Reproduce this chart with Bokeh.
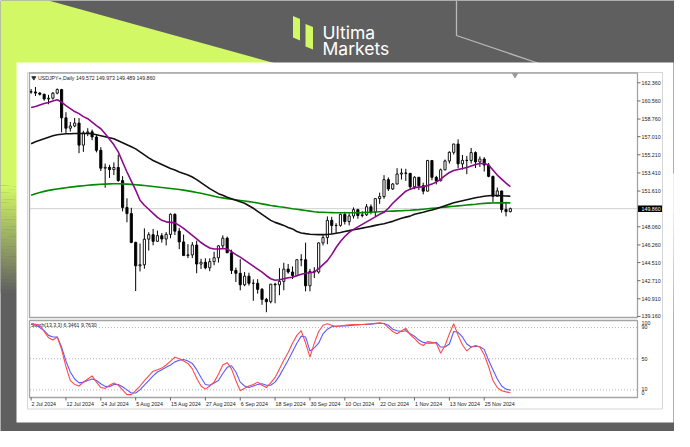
import numpy as np
from bokeh.plotting import figure
from bokeh.models import Range1d, Grid
from bokeh.core.properties import value
from bokeh.embed import file_html
from bokeh.resources import INLINE

# ---------------- data ----------------
symbol_title = "USDJPY+,Daily  149.572 149.973 149.489 149.860"
stoch_title = "Stoch(13,3,3) 6.3461 9.7630"

open_ = [161.47,161.45,161.34,161.22,160.76,160.83,161.33,161.69,158.88,157.85,
         158.07,158.36,156.17,157.39,157.49,156.98,155.65,153.88,153.97,153.74,
         153.95,152.65,149.98,149.37,146.51,144.18,144.29,146.83,147.28,146.62,
         147.18,146.85,147.31,149.30,147.63,146.56,145.20,145.27,146.25,144.36,
         144.54,143.99,144.60,144.99,146.17,146.93,145.48,143.73,143.44,142.30,
         143.16,142.45,142.45,141.85,140.85,140.62,142.36,142.30,142.64,143.86,
         143.57,143.22,144.79,144.79,142.20,143.63,143.57,146.46,146.99,148.70,
         148.19,148.20,149.30,148.58,149.14,149.76,149.18,149.25,150.05,149.52,
         150.86,151.06,152.74,151.82,152.31,153.30,153.40,153.37,152.03,152.98,
         152.14,151.60,154.64,152.97,152.63,153.72,154.60,155.45,156.28,154.31,
         154.66,154.65,155.43,154.50,154.79,154.19,153.07,151.09,151.62,149.77,
         149.572]
high = [161.74,161.95,161.44,161.27,161.16,161.44,161.80,161.76,159.44,158.47,
        158.87,158.86,157.59,157.85,157.72,157.16,155.97,154.34,154.22,154.46,
        155.22,153.09,150.89,149.95,146.58,146.40,147.90,147.52,147.85,147.68,
        147.44,147.53,149.39,149.40,147.95,147.29,146.34,146.54,146.68,144.88,
        144.93,144.93,145.58,146.25,147.21,147.09,145.78,144.00,144.84,143.58,
        143.50,142.84,142.86,141.98,141.00,142.39,142.50,143.95,144.49,144.37,
        144.12,144.82,145.34,146.49,143.88,144.05,146.50,147.24,149.09,149.05,
        148.42,149.37,149.55,149.39,149.98,149.85,149.61,150.32,150.28,150.90,
        151.45,153.19,152.96,152.41,153.88,153.85,153.82,153.37,153.08,153.01,
        152.44,154.71,154.67,153.12,153.84,154.74,155.57,156.30,156.75,155.20,
        155.10,155.89,155.55,155.05,154.97,154.39,153.14,151.96,151.64,150.55,
        149.973]
low = [161.27,161.05,161.10,160.58,160.23,160.69,161.22,157.44,157.36,157.51,
       157.95,155.37,155.50,157.06,156.66,155.45,153.60,151.94,152.91,153.19,
       152.53,149.59,148.51,146.43,141.68,143.63,143.90,145.70,146.22,146.56,
       146.49,146.21,146.92,147.24,145.84,145.19,144.95,144.95,143.45,143.87,
       143.84,143.65,144.24,144.51,145.93,145.47,143.37,142.58,141.75,142.16,
       142.23,140.71,141.43,140.31,139.58,140.46,140.47,141.27,141.75,143.40,
       142.87,143.19,144.14,141.65,141.65,142.97,143.41,146.21,146.33,147.35,
       147.34,148.07,148.29,148.20,148.88,148.86,148.99,149.14,149.30,149.09,
       150.34,150.85,151.61,151.72,152.27,152.75,152.62,151.74,151.79,151.71,
       151.28,151.58,152.68,152.27,152.57,153.66,154.34,155.23,153.87,153.74,
       153.29,154.35,153.90,154.00,153.55,152.98,150.45,151.08,149.47,149.10,
       149.489]
close = [161.45,161.34,161.22,160.76,160.83,161.33,161.69,158.88,157.85,158.07,
         158.36,156.17,157.39,157.49,156.98,155.65,153.88,153.97,153.74,153.95,
         152.65,149.98,149.37,146.51,144.18,144.29,146.83,147.28,146.62,147.18,
         146.85,147.31,149.30,147.63,146.56,145.20,145.27,146.25,144.36,144.54,
         143.99,144.60,144.99,146.17,146.93,145.48,143.73,143.44,142.30,143.16,
         142.45,142.45,141.85,140.85,140.62,142.36,142.30,142.64,143.86,143.57,
         143.22,144.79,144.79,142.20,143.63,143.57,146.46,146.99,148.70,148.19,
         148.20,149.30,148.58,149.14,149.76,149.18,149.25,150.05,149.52,150.86,
         151.06,152.74,151.82,152.31,153.30,153.40,153.37,152.03,152.98,152.14,
         151.60,154.64,152.97,152.63,153.72,154.60,155.45,156.28,154.31,154.66,
         154.65,155.43,154.50,154.79,154.19,153.07,151.09,151.62,149.77,149.57,
         149.860]

ma_purple = [159.9,160.0,160.15,160.3,160.4,160.55,160.67,160.45,160.1,159.8,
             159.5,159.3,159.0,158.8,158.45,158.1,157.8,157.3,156.75,156.2,
             155.5,154.5,153.5,152.6,151.7,150.7,150.2,149.8,149.4,149.0,
             148.7,148.55,148.5,148.45,148.2,147.9,147.55,147.2,146.85,146.5,
             146.2,145.95,145.85,145.85,145.9,145.85,145.6,145.3,145.05,144.75,
             144.45,144.15,143.85,143.55,143.2,142.9,142.75,142.8,142.9,143.0,
             143.05,143.2,143.35,143.45,143.5,143.55,143.9,144.3,144.7,145.3,
             146.0,146.6,147.1,147.5,147.8,148.05,148.3,148.55,148.8,149.05,
             149.3,149.5,149.9,150.4,150.8,151.2,151.6,151.8,151.95,152.0,
             152.05,152.15,152.3,152.5,152.8,153.15,153.45,153.65,153.75,153.85,
             153.95,154.1,154.25,154.35,154.35,154.2,153.7,153.2,152.8,152.4,
             152.05]
ma_black = [156.3,156.5,156.65,156.8,156.95,157.1,157.2,157.25,157.3,157.3,
            157.32,157.33,157.33,157.32,157.3,157.2,157.1,157.0,156.9,156.8,
            156.6,156.4,156.2,156.0,155.8,155.5,155.2,154.9,154.65,154.45,
            154.25,154.05,153.85,153.7,153.5,153.35,153.2,153.0,152.75,152.45,
            152.15,151.85,151.6,151.35,151.2,151.0,150.85,150.7,150.55,150.4,
            150.15,149.9,149.6,149.3,149.0,148.7,148.5,148.35,148.2,148.0,
            147.85,147.6,147.45,147.38,147.32,147.3,147.28,147.28,147.3,147.35,
            147.42,147.5,147.6,147.68,147.77,147.85,147.93,148.02,148.1,148.2,
            148.28,148.36,148.48,148.6,148.75,148.9,149.02,149.12,149.3,149.4,
            149.5,149.62,149.72,149.85,150.0,150.15,150.3,150.45,150.55,150.65,
            150.75,150.85,150.95,151.02,151.1,151.15,151.17,151.17,151.15,151.12,
            151.1]
ma_green = [151.2,151.35,151.47,151.58,151.68,151.75,151.82,151.88,151.94,152.0,
            152.05,152.1,152.14,152.18,152.22,152.25,152.28,152.3,152.32,152.33,
            152.33,152.32,152.3,152.27,152.24,152.2,152.16,152.11,152.06,152.01,
            151.96,151.91,151.86,151.81,151.76,151.7,151.63,151.55,151.47,151.39,
            151.3,151.2,151.1,151.0,150.93,150.86,150.8,150.74,150.68,150.62,
            150.56,150.5,150.42,150.34,150.26,150.17,150.11,150.05,150.0,149.93,
            149.86,149.8,149.74,149.68,149.62,149.56,149.52,149.5,149.48,149.47,
            149.46,149.45,149.45,149.45,149.45,149.46,149.47,149.49,149.51,149.53,
            149.56,149.58,149.6,149.62,149.64,149.66,149.68,149.7,149.74,149.77,
            149.81,149.85,149.89,149.93,149.97,150.01,150.06,150.1,150.14,150.18,
            150.22,150.26,150.3,150.35,150.39,150.41,150.43,150.44,150.44,150.44,
            150.44]

stoch_main = [95,94,93,85,77,74,78,62,40,22,
              17,15,20,24,28,20,13,12,16,19,
              16,10,4,4,9,15,22,28,34,36,
              38,42,47,52,50,47,44,37,25,15,
              11,15,20,30,42,45,37,22,9,12,
              15,17,20,16,13,19,26,37,48,58,
              70,80,86,70,52,70,85,93,95,93,
              91,92,93,93.5,94,94,94,94.5,95,95.5,
              96,95,90,85,82,86,89,81,76,70,
              67,72,71,70,57,67,82,95,80,68,
              60,65,67,65,55,40,22,13,9,7.5,
              6.3461]
stoch_signal = [94,93.5,90,86,80,78,78,65,47,33,
                24,19,20,22,24,22,18,14.5,14,17,
                17,14,10,6,6,10,16,22,28,33,
                36,39,42,46,48,49,47,44,36,26,
                17,16,19,22,31,39,41,33,20,15,
                13,15,17,18,16,16,20,28,38,48,
                59,70,79,78,60,64,70,82,88,91,
                92,92,92,92.5,93,93.5,94,94,94.5,95,
                95.5,95.3,93,88,86,85,86,82,79,74,
                71,70,70,71,65,65,69,85,84,78,
                69,65,66,65.4,62,48,36,24,15,11,
                9.763]

date_tick_bars = [0, 8, 16, 24, 32, 40, 48, 56, 64, 72, 80, 88, 96, 104]
date_tick_labels = ["2 Jul 2024", "12 Jul 2024", "24 Jul 2024", "5 Aug 2024",
                    "15 Aug 2024", "27 Aug 2024", "6 Sep 2024", "18 Sep 2024",
                    "30 Sep 2024", "10 Oct 2024", "22 Oct 2024", "1 Nov 2024",
                    "13 Nov 2024", "25 Nov 2024"]
price_ticks = [162.360, 160.560, 158.760, 157.010, 155.210, 153.410, 151.610,
               148.060, 146.260, 144.510, 142.710, 140.910, 139.160]
current_price = 149.860
stoch_ticks = [100, 90, 50, 10, 0]
stoch_tick_shift = [3.3, -0.3, 0, -0.7, -4.5]
stoch_levels = [90, 50, 10]

# ---------------- layout constants (reference pixel frame) ----------------
W, H = 674, 431
OX, OY = 0, 0
BAR0_X, BAR_PX = 30.6, 4.357
P_REF, P_REF_Y, PX_PER_YEN = 162.36, 82.3, 10.07
ST_Y0, PX_PER_ST = 397.2, 0.779

GRAY = (95, 95, 95)
LIME = (211, 248, 101)
FONT = value("Liberation Sans")

p = figure(width=W, height=H, output_backend="svg", toolbar_location=None,
           x_axis_location=None, y_axis_location=None, min_border=0,
           x_range=Range1d((OX - BAR0_X) / BAR_PX, (OX + W - BAR0_X) / BAR_PX),
           y_range=Range1d(P_REF - (OY + H - P_REF_Y) / PX_PER_YEN,
                           P_REF + (P_REF_Y - OY) / PX_PER_YEN))
p.extra_x_ranges = {"px": Range1d(OX, OX + W)}
p.extra_y_ranges = {"py": Range1d(OY + H, OY),
                    "st": Range1d((ST_Y0 - (OY + H)) / PX_PER_ST, (ST_Y0 - OY) / PX_PER_ST)}
for g in p.select(type=Grid):
    g.visible = False
p.outline_line_color = None
p.background_fill_color = "#5f5f5f"
p.border_fill_color = "#5f5f5f"

PX = dict(x_range_name="px", y_range_name="py")

def hexc(c):
    return "#%02x%02x%02x" % tuple(int(round(v)) for v in c)

# ---- background: lime wedge with fade ----
dslope = 173.0 / (673 - 48)
u0, u1, ms = 185.0, 292.0, 0.045
xl, xr = OX, OX + W
p.patch([xl, 48, xr, xr, xl],
        [OY, OY, (xr - 48) * dslope, u0 + ms * (xr - xl), u0],
        fill_color=hexc(LIME), line_color=None, **PX)
N = 32
bxs, bys, bcs = [], [], []
for k in range(N):
    ua = u0 + (u1 - u0) * k / N
    ub = u0 + (u1 - u0) * (k + 1) / N + 0.4
    t = (k + 0.5) / N
    col = hexc([LIME[j] * (1 - t) + GRAY[j] * t for j in range(3)])
    bxs.append([xl, xr, xr, xl])
    bys.append([ua, ua + ms * (xr - xl), ub + ms * (xr - xl), ub])
    bcs.append(col)
p.patches(bxs, bys, fill_color=bcs, line_color=None, **PX)

# thin light lines at the top right
p.line([456, 456, 540], [OY, 35, 63.5], line_color="#b9b9b9", line_width=1.3, **PX)

# logo
p.patch([292.5, 299.5, 299.5, 292.5], [15.5, 18.5, 40, 37], fill_color=hexc(LIME), line_color=None, **PX)
p.patch([305, 312.5, 312.5, 305], [23.5, 26.5, 49, 46], fill_color=hexc(LIME), line_color=None, **PX)
p.text(x=[322], y=[31.5], text=["Ultima"], text_font=value("Inter"), text_font_size="17.5px",
       text_color="white", text_baseline="alphabetic", **PX)
p.text(x=[322], y=[48], text=["Markets"], text_font=value("Inter"), text_font_size="17.5px",
       text_color="white", text_baseline="alphabetic", **PX)

# white card and MT4 window
p.quad(left=16, right=673, top=62, bottom=422, fill_color="white", line_color=None, **PX)
p.quad(left=27, right=662, top=72, bottom=408.5, fill_color="white", line_color="#d6d6d6", line_width=1, **PX)
p.quad(left=29, right=637, top=72.5, bottom=317, fill_color="white", line_color="#a4a4a4", line_width=1.3, **PX)
p.quad(left=29, right=637, top=320, bottom=397, fill_color="white", line_color="#a4a4a4", line_width=1.3, **PX)

# ---------------- price panel ----------------
idx = list(range(len(close)))
p.segment(x0=[29.5], x1=[636.5], y0=[current_price], y1=[current_price],
          line_color="#cfcfcf", line_width=1, x_range_name="px")

bull = [c >= o for o, c in zip(open_, close)]
p.segment(x0=idx, x1=idx, y0=low, y1=high, line_color="black", line_width=1)
p.vbar(x=idx, width=0.5,
       top=[max(o, c) for o, c in zip(open_, close)],
       bottom=[min(o, c) for o, c in zip(open_, close)],
       fill_color=["white" if b else "black" for b in bull],
       line_color="black", line_width=0.9)

p.line(idx, ma_green, line_color="#008a00", line_width=1.6)
p.line(idx, ma_black, line_color="#111111", line_width=1.6)
p.line(idx, ma_purple, line_color="#8b0a8b", line_width=1.6)

# header texts / markers
p.scatter(x=[33.3], y=[77.3], marker="inverted_triangle", size=4, color="#333333", **PX)
p.text(x=[37.5], y=[77.8], text=[symbol_title], text_font=FONT, text_font_size="5.2px",
       text_color="#222222", text_baseline="middle", **PX)
p.scatter(x=[514.5], y=[74.5], marker="inverted_triangle", size=5, color="#9a9a9a", **PX)

# price scale (right)
p.segment(x0=[637] * len(price_ticks), x1=[640] * len(price_ticks), y0=price_ticks, y1=price_ticks,
          line_color="#444444", line_width=0.8, x_range_name="px")
p.text(x=[641] * len(price_ticks), y=price_ticks, text=["%.3f" % v for v in price_ticks],
       text_font=FONT, text_font_size="5.3px", text_color="#222222",
       text_baseline="middle", x_range_name="px")
p.rect(x=[649.5], y=[current_price], width=24, height=6.5, width_units="screen",
       height_units="screen", fill_color="black", line_color=None, x_range_name="px")
p.text(x=[641], y=[current_price], text=["%.3f" % current_price], text_font=FONT,
       text_font_size="5.3px", text_color="white", text_baseline="middle", x_range_name="px")

# ---------------- stochastic panel ----------------
ST = dict(y_range_name="st")
p.segment(x0=[29.5] * 3, x1=[636.5] * 3, y0=stoch_levels, y1=stoch_levels,
          line_color="#a8a8a8", line_width=0.9, line_dash="1 2", x_range_name="px", y_range_name="st")
p.text(x=[30.5], y=[324], text=[stoch_title], text_font=FONT, text_font_size="5.2px",
       text_color="#222222", text_baseline="middle", **PX)
p.line(idx, stoch_signal, line_color="#5a5aff", line_width=1.1, **ST)
p.line(idx, stoch_main, line_color="#ff4a4a", line_width=1.1, **ST)
p.text(x=[641] * len(stoch_ticks), y=stoch_ticks, y_offset=stoch_tick_shift,
       text=[str(v) for v in stoch_ticks], text_font=FONT, text_font_size="5.3px",
       text_color="#222222", text_baseline="middle", x_range_name="px", y_range_name="st")

# ---------------- time scale ----------------
p.segment(x0=date_tick_bars, x1=date_tick_bars, y0=[397] * len(date_tick_bars),
          y1=[400] * len(date_tick_bars), line_color="#444444", line_width=0.8, y_range_name="py")
p.text(x=date_tick_bars, y=[403.5] * len(date_tick_bars), text=date_tick_labels, x_offset=0.5,
       text_font=FONT, text_font_size="5.3px", text_color="#222222",
       text_baseline="middle", y_range_name="py")

open("out.html", "w").write(file_html(p, INLINE))
